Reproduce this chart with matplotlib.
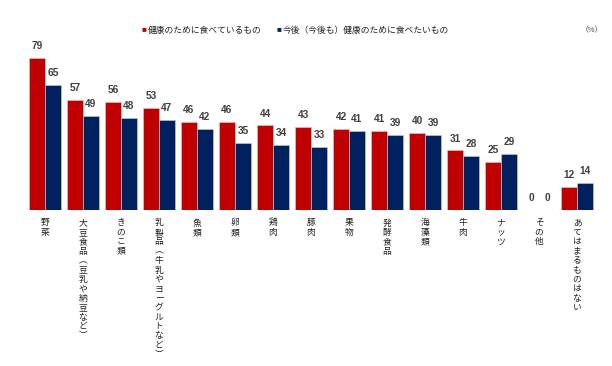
import matplotlib
matplotlib.use('Agg')
import matplotlib.pyplot as plt
import numpy as np

plt.rcParams['font.family'] = ['Noto Sans CJK JP', 'DejaVu Sans']

categories = ['野菜', '大豆食品（豆乳や納豆など）', 'きのこ類', '乳製品（牛乳やヨーグルトなど）',
              '魚類', '卵類', '鶏肉', '豚肉', '果物', '発酵食品', '海藻類', '牛肉', 'ナッツ',
              'その他', 'あてはまるものはない']
eating_now = [79, 57, 56, 53, 46, 46, 44, 43, 42, 41, 40, 31, 25, 0, 12]
want_to_eat = [65, 49, 48, 47, 42, 35, 34, 33, 41, 39, 39, 28, 29, 0, 14]
legend_labels = ['健康のために食べているもの', '今後（今後も）健康のために食べたいもの']

red = '#C00000'
navy = '#002060'

fig = plt.figure(figsize=(6.12, 3.66), dpi=100)
ax = fig.add_axes([0, 0.426, 1, 0.473])

x = np.arange(len(categories))
w = 0.42
ax.bar(x - w / 2, eating_now, w, color=red, edgecolor='#f0c8c8', linewidth=0.4)
ax.bar(x + w / 2, want_to_eat, w, color=navy, edgecolor='#c8d0e0', linewidth=0.4)

for xi, v in zip(x - w / 2, eating_now):
    ax.annotate(str(v), (xi, v), xytext=(0, 5), textcoords='offset points', ha='center',
                va='bottom', fontsize=7.3, fontweight='bold', color='#404040',
                family=['Liberation Sans', 'DejaVu Sans'])
for xi, v in zip(x + w / 2, want_to_eat):
    ax.annotate(str(v), (xi, v), xytext=(0, 5), textcoords='offset points', ha='center',
                va='bottom', fontsize=7.3, fontweight='bold', color='#404040',
                family=['Liberation Sans', 'DejaVu Sans'])

# vertical category labels, one character per line
for xi, lab in zip(x, categories):
    s = lab.replace('（', '︵').replace('）', '︶')
    ax.annotate('\n'.join(s), (xi, 0), xytext=(0, -6), textcoords='offset points',
                ha='center', va='top', fontsize=6.3, linespacing=1.06, color='#202020')

ax.set_xlim(-45 / 38, (612 - 45) / 38)
ax.set_ylim(0, 90)
ax.axis('off')

# legend
fig.text(144 / 612, 1 - 30 / 366, '■', color=red, fontsize=3.5, ha='center', va='center')
fig.text(148 / 612, 1 - 30 / 366, legend_labels[0], fontsize=6.3, ha='left', va='center',
         color='#202020')
fig.text(279 / 612, 1 - 30 / 366, '■', color=navy, fontsize=3.5, ha='center', va='center')
fig.text(283 / 612, 1 - 30 / 366, legend_labels[1], fontsize=6.3, ha='left', va='center',
         color='#202020')
fig.text(592 / 612, 1 - 30 / 366, '（%）', fontsize=5.5, ha='center', va='center', color='#404040')

fig.savefig('out.png', dpi=100)
